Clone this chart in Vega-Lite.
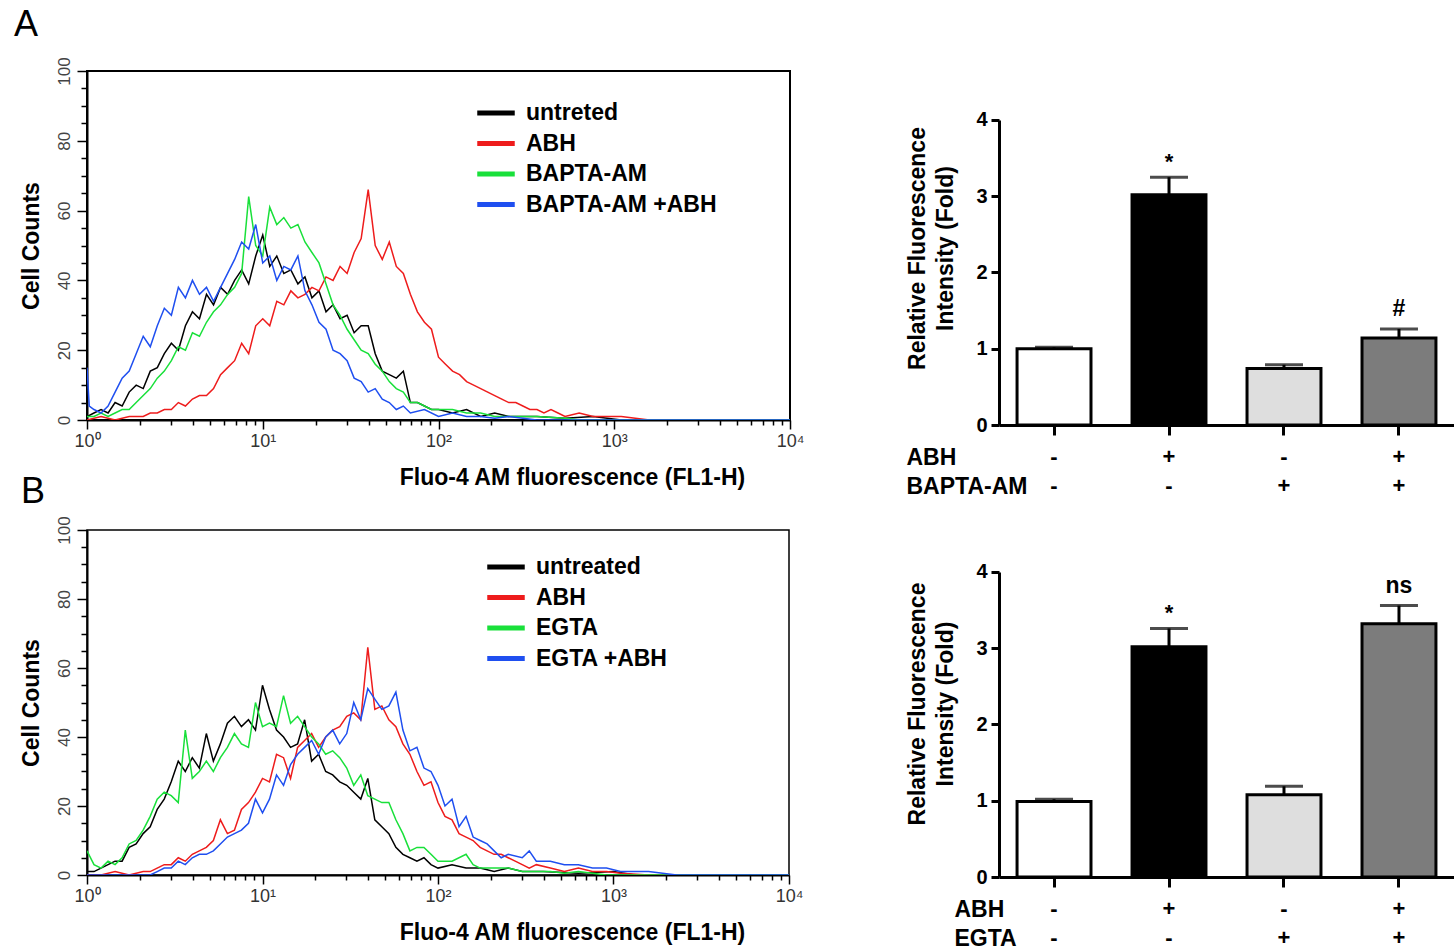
{
  "$schema": "https://vega.github.io/schema/vega-lite/v6.json",
  "background": "white",
  "padding": {"left": 13, "top": 5, "right": 0, "bottom": 0},
  "config": {
    "font": "Liberation Sans",
    "view": {"stroke": null},
    "axis": {"grid": false, "domainColor": "black", "tickColor": "black", "labelFlush": false, "labelOverlap": false},
    "legend": {"padding": 0}
  },
  "datasets": {
    "histA": [
      {"s":"untreted","x":1,"y":1},{"s":"untreted","x":1.096,"y":2},{"s":"untreted","x":1.202,"y":3},{"s":"untreted","x":1.318,"y":2},{"s":"untreted","x":1.445,"y":5},{"s":"untreted","x":1.585,"y":4},{"s":"untreted","x":1.738,"y":8},{"s":"untreted","x":1.905,"y":10},{"s":"untreted","x":2.089,"y":9},{"s":"untreted","x":2.291,"y":14},{"s":"untreted","x":2.512,"y":15},{"s":"untreted","x":2.754,"y":19},{"s":"untreted","x":3.02,"y":22},{"s":"untreted","x":3.311,"y":20},{"s":"untreted","x":3.631,"y":27},{"s":"untreted","x":3.981,"y":31},{"s":"untreted","x":4.365,"y":29},{"s":"untreted","x":4.786,"y":36},{"s":"untreted","x":5.248,"y":33},{"s":"untreted","x":5.754,"y":38},{"s":"untreted","x":6.31,"y":36},{"s":"untreted","x":6.918,"y":40},{"s":"untreted","x":7.586,"y":43},{"s":"untreted","x":8.318,"y":39},{"s":"untreted","x":9.12,"y":47},{"s":"untreted","x":10,"y":53},{"s":"untreted","x":10.96,"y":44},{"s":"untreted","x":12.02,"y":47},{"s":"untreted","x":13.18,"y":42},{"s":"untreted","x":14.45,"y":43},{"s":"untreted","x":15.85,"y":39},{"s":"untreted","x":17.38,"y":41},{"s":"untreted","x":19.05,"y":35},{"s":"untreted","x":20.89,"y":37},{"s":"untreted","x":22.91,"y":31},{"s":"untreted","x":25.12,"y":33},{"s":"untreted","x":27.54,"y":29},{"s":"untreted","x":30.2,"y":30},{"s":"untreted","x":33.11,"y":25},{"s":"untreted","x":36.31,"y":27},{"s":"untreted","x":39.81,"y":27},{"s":"untreted","x":43.65,"y":19},{"s":"untreted","x":47.86,"y":14},{"s":"untreted","x":52.48,"y":13},{"s":"untreted","x":57.54,"y":12},{"s":"untreted","x":63.1,"y":14},{"s":"untreted","x":69.18,"y":5},{"s":"untreted","x":75.86,"y":5},{"s":"untreted","x":83.18,"y":4},{"s":"untreted","x":91.2,"y":3},{"s":"untreted","x":100,"y":3},{"s":"untreted","x":120.2,"y":2},{"s":"untreted","x":144.5,"y":3},{"s":"untreted","x":173.8,"y":1},{"s":"untreted","x":208.9,"y":2},{"s":"untreted","x":251.2,"y":1},{"s":"untreted","x":363.1,"y":1},{"s":"untreted","x":524.8,"y":0.5},{"s":"untreted","x":758.6,"y":1},{"s":"untreted","x":1096,"y":0},{"s":"untreted","x":10000,"y":0},
      {"s":"ABH","x":1,"y":0},{"s":"ABH","x":1.202,"y":1},{"s":"ABH","x":1.445,"y":0},{"s":"ABH","x":1.738,"y":1},{"s":"ABH","x":2.089,"y":1},{"s":"ABH","x":2.291,"y":2},{"s":"ABH","x":2.512,"y":2},{"s":"ABH","x":2.754,"y":3},{"s":"ABH","x":3.02,"y":3},{"s":"ABH","x":3.311,"y":5},{"s":"ABH","x":3.631,"y":4},{"s":"ABH","x":3.981,"y":6},{"s":"ABH","x":4.365,"y":7},{"s":"ABH","x":4.786,"y":7},{"s":"ABH","x":5.248,"y":9},{"s":"ABH","x":5.754,"y":13},{"s":"ABH","x":6.31,"y":15},{"s":"ABH","x":6.918,"y":17},{"s":"ABH","x":7.586,"y":22},{"s":"ABH","x":8.318,"y":19},{"s":"ABH","x":9.12,"y":27},{"s":"ABH","x":10,"y":29},{"s":"ABH","x":10.96,"y":27},{"s":"ABH","x":12.02,"y":34},{"s":"ABH","x":13.18,"y":33},{"s":"ABH","x":14.45,"y":37},{"s":"ABH","x":15.85,"y":35},{"s":"ABH","x":17.38,"y":36},{"s":"ABH","x":19.05,"y":38},{"s":"ABH","x":20.89,"y":37},{"s":"ABH","x":22.91,"y":41},{"s":"ABH","x":25.12,"y":40},{"s":"ABH","x":27.54,"y":44},{"s":"ABH","x":30.2,"y":42},{"s":"ABH","x":33.11,"y":48},{"s":"ABH","x":36.31,"y":52},{"s":"ABH","x":39.81,"y":66},{"s":"ABH","x":43.65,"y":50},{"s":"ABH","x":47.86,"y":46},{"s":"ABH","x":52.48,"y":51},{"s":"ABH","x":57.54,"y":44},{"s":"ABH","x":63.1,"y":42},{"s":"ABH","x":69.18,"y":36},{"s":"ABH","x":75.86,"y":31},{"s":"ABH","x":83.18,"y":28},{"s":"ABH","x":91.2,"y":26},{"s":"ABH","x":100,"y":18},{"s":"ABH","x":109.6,"y":16},{"s":"ABH","x":120.2,"y":14},{"s":"ABH","x":131.8,"y":13},{"s":"ABH","x":144.5,"y":11},{"s":"ABH","x":158.5,"y":10},{"s":"ABH","x":173.8,"y":9},{"s":"ABH","x":190.5,"y":8},{"s":"ABH","x":208.9,"y":7},{"s":"ABH","x":229.1,"y":6},{"s":"ABH","x":251.2,"y":5},{"s":"ABH","x":275.4,"y":5},{"s":"ABH","x":302,"y":4},{"s":"ABH","x":331.1,"y":3},{"s":"ABH","x":363.1,"y":3},{"s":"ABH","x":398.1,"y":2},{"s":"ABH","x":436.5,"y":3},{"s":"ABH","x":478.6,"y":2},{"s":"ABH","x":524.8,"y":1},{"s":"ABH","x":631,"y":2},{"s":"ABH","x":758.6,"y":1},{"s":"ABH","x":912,"y":1},{"s":"ABH","x":1096,"y":1},{"s":"ABH","x":1318,"y":0.5},{"s":"ABH","x":1585,"y":0},{"s":"ABH","x":10000,"y":0},
      {"s":"BAPTA-AM","x":1,"y":1},{"s":"BAPTA-AM","x":1.096,"y":1},{"s":"BAPTA-AM","x":1.202,"y":2},{"s":"BAPTA-AM","x":1.318,"y":1},{"s":"BAPTA-AM","x":1.445,"y":2},{"s":"BAPTA-AM","x":1.585,"y":3},{"s":"BAPTA-AM","x":1.738,"y":3},{"s":"BAPTA-AM","x":1.905,"y":5},{"s":"BAPTA-AM","x":2.089,"y":7},{"s":"BAPTA-AM","x":2.291,"y":9},{"s":"BAPTA-AM","x":2.512,"y":12},{"s":"BAPTA-AM","x":2.754,"y":14},{"s":"BAPTA-AM","x":3.02,"y":17},{"s":"BAPTA-AM","x":3.311,"y":21},{"s":"BAPTA-AM","x":3.631,"y":20},{"s":"BAPTA-AM","x":3.981,"y":25},{"s":"BAPTA-AM","x":4.365,"y":24},{"s":"BAPTA-AM","x":4.786,"y":28},{"s":"BAPTA-AM","x":5.248,"y":31},{"s":"BAPTA-AM","x":5.754,"y":33},{"s":"BAPTA-AM","x":6.31,"y":36},{"s":"BAPTA-AM","x":6.918,"y":38},{"s":"BAPTA-AM","x":7.586,"y":42},{"s":"BAPTA-AM","x":8.318,"y":64},{"s":"BAPTA-AM","x":9.12,"y":50},{"s":"BAPTA-AM","x":10,"y":47},{"s":"BAPTA-AM","x":10.96,"y":61},{"s":"BAPTA-AM","x":12.02,"y":56},{"s":"BAPTA-AM","x":13.18,"y":58},{"s":"BAPTA-AM","x":14.45,"y":55},{"s":"BAPTA-AM","x":15.85,"y":56},{"s":"BAPTA-AM","x":17.38,"y":51},{"s":"BAPTA-AM","x":19.05,"y":48},{"s":"BAPTA-AM","x":20.89,"y":45},{"s":"BAPTA-AM","x":22.91,"y":39},{"s":"BAPTA-AM","x":25.12,"y":33},{"s":"BAPTA-AM","x":27.54,"y":30},{"s":"BAPTA-AM","x":30.2,"y":26},{"s":"BAPTA-AM","x":33.11,"y":23},{"s":"BAPTA-AM","x":36.31,"y":20},{"s":"BAPTA-AM","x":39.81,"y":19},{"s":"BAPTA-AM","x":43.65,"y":16},{"s":"BAPTA-AM","x":47.86,"y":14},{"s":"BAPTA-AM","x":52.48,"y":11},{"s":"BAPTA-AM","x":57.54,"y":9},{"s":"BAPTA-AM","x":63.1,"y":8},{"s":"BAPTA-AM","x":69.18,"y":5},{"s":"BAPTA-AM","x":75.86,"y":5},{"s":"BAPTA-AM","x":83.18,"y":4},{"s":"BAPTA-AM","x":91.2,"y":3},{"s":"BAPTA-AM","x":100,"y":3},{"s":"BAPTA-AM","x":120.2,"y":3},{"s":"BAPTA-AM","x":144.5,"y":2},{"s":"BAPTA-AM","x":173.8,"y":2},{"s":"BAPTA-AM","x":208.9,"y":1},{"s":"BAPTA-AM","x":251.2,"y":1},{"s":"BAPTA-AM","x":363.1,"y":1},{"s":"BAPTA-AM","x":524.8,"y":0.5},{"s":"BAPTA-AM","x":631,"y":0},{"s":"BAPTA-AM","x":10000,"y":0},
      {"s":"BAPTA-AM +ABH","x":1,"y":15},{"s":"BAPTA-AM +ABH","x":1.03,"y":4},{"s":"BAPTA-AM +ABH","x":1.096,"y":3},{"s":"BAPTA-AM +ABH","x":1.202,"y":2},{"s":"BAPTA-AM +ABH","x":1.318,"y":4},{"s":"BAPTA-AM +ABH","x":1.445,"y":8},{"s":"BAPTA-AM +ABH","x":1.585,"y":12},{"s":"BAPTA-AM +ABH","x":1.738,"y":14},{"s":"BAPTA-AM +ABH","x":1.905,"y":19},{"s":"BAPTA-AM +ABH","x":2.089,"y":24},{"s":"BAPTA-AM +ABH","x":2.291,"y":21},{"s":"BAPTA-AM +ABH","x":2.512,"y":27},{"s":"BAPTA-AM +ABH","x":2.754,"y":32},{"s":"BAPTA-AM +ABH","x":3.02,"y":30},{"s":"BAPTA-AM +ABH","x":3.311,"y":38},{"s":"BAPTA-AM +ABH","x":3.631,"y":35},{"s":"BAPTA-AM +ABH","x":3.981,"y":40},{"s":"BAPTA-AM +ABH","x":4.365,"y":36},{"s":"BAPTA-AM +ABH","x":4.786,"y":38},{"s":"BAPTA-AM +ABH","x":5.248,"y":34},{"s":"BAPTA-AM +ABH","x":5.754,"y":38},{"s":"BAPTA-AM +ABH","x":6.31,"y":42},{"s":"BAPTA-AM +ABH","x":6.918,"y":46},{"s":"BAPTA-AM +ABH","x":7.586,"y":51},{"s":"BAPTA-AM +ABH","x":8.318,"y":49},{"s":"BAPTA-AM +ABH","x":9.12,"y":56},{"s":"BAPTA-AM +ABH","x":10,"y":45},{"s":"BAPTA-AM +ABH","x":10.96,"y":47},{"s":"BAPTA-AM +ABH","x":12.02,"y":40},{"s":"BAPTA-AM +ABH","x":13.18,"y":44},{"s":"BAPTA-AM +ABH","x":14.45,"y":43},{"s":"BAPTA-AM +ABH","x":15.85,"y":47},{"s":"BAPTA-AM +ABH","x":17.38,"y":37},{"s":"BAPTA-AM +ABH","x":19.05,"y":33},{"s":"BAPTA-AM +ABH","x":20.89,"y":28},{"s":"BAPTA-AM +ABH","x":22.91,"y":26},{"s":"BAPTA-AM +ABH","x":25.12,"y":20},{"s":"BAPTA-AM +ABH","x":27.54,"y":19},{"s":"BAPTA-AM +ABH","x":30.2,"y":17},{"s":"BAPTA-AM +ABH","x":33.11,"y":12},{"s":"BAPTA-AM +ABH","x":36.31,"y":11},{"s":"BAPTA-AM +ABH","x":39.81,"y":8},{"s":"BAPTA-AM +ABH","x":43.65,"y":9},{"s":"BAPTA-AM +ABH","x":47.86,"y":6},{"s":"BAPTA-AM +ABH","x":52.48,"y":5},{"s":"BAPTA-AM +ABH","x":57.54,"y":3},{"s":"BAPTA-AM +ABH","x":63.1,"y":4},{"s":"BAPTA-AM +ABH","x":69.18,"y":2},{"s":"BAPTA-AM +ABH","x":83.18,"y":3},{"s":"BAPTA-AM +ABH","x":100,"y":1},{"s":"BAPTA-AM +ABH","x":120.2,"y":2},{"s":"BAPTA-AM +ABH","x":144.5,"y":1},{"s":"BAPTA-AM +ABH","x":173.8,"y":1},{"s":"BAPTA-AM +ABH","x":208.9,"y":0.5},{"s":"BAPTA-AM +ABH","x":251.2,"y":1},{"s":"BAPTA-AM +ABH","x":363.1,"y":0},{"s":"BAPTA-AM +ABH","x":10000,"y":0}
    ],
    "histB": [
      {"s":"untreated","x":1,"y":1},{"s":"untreated","x":1.096,"y":1},{"s":"untreated","x":1.202,"y":2},{"s":"untreated","x":1.318,"y":3},{"s":"untreated","x":1.445,"y":4},{"s":"untreated","x":1.585,"y":4},{"s":"untreated","x":1.738,"y":8},{"s":"untreated","x":1.905,"y":9},{"s":"untreated","x":2.089,"y":12},{"s":"untreated","x":2.291,"y":14},{"s":"untreated","x":2.512,"y":19},{"s":"untreated","x":2.754,"y":22},{"s":"untreated","x":3.02,"y":27},{"s":"untreated","x":3.311,"y":33},{"s":"untreated","x":3.631,"y":30},{"s":"untreated","x":3.981,"y":34},{"s":"untreated","x":4.365,"y":31},{"s":"untreated","x":4.786,"y":41},{"s":"untreated","x":5.248,"y":33},{"s":"untreated","x":5.754,"y":38},{"s":"untreated","x":6.31,"y":44},{"s":"untreated","x":6.918,"y":46},{"s":"untreated","x":7.586,"y":43},{"s":"untreated","x":8.318,"y":45},{"s":"untreated","x":9.12,"y":42},{"s":"untreated","x":10,"y":55},{"s":"untreated","x":10.96,"y":48},{"s":"untreated","x":12.02,"y":42},{"s":"untreated","x":13.18,"y":40},{"s":"untreated","x":14.45,"y":37},{"s":"untreated","x":15.85,"y":38},{"s":"untreated","x":17.38,"y":45},{"s":"untreated","x":19.05,"y":33},{"s":"untreated","x":20.89,"y":35},{"s":"untreated","x":22.91,"y":30},{"s":"untreated","x":25.12,"y":29},{"s":"untreated","x":27.54,"y":27},{"s":"untreated","x":30.2,"y":26},{"s":"untreated","x":33.11,"y":24},{"s":"untreated","x":36.31,"y":22},{"s":"untreated","x":39.81,"y":28},{"s":"untreated","x":43.65,"y":16},{"s":"untreated","x":47.86,"y":14},{"s":"untreated","x":52.48,"y":12},{"s":"untreated","x":57.54,"y":8},{"s":"untreated","x":63.1,"y":6},{"s":"untreated","x":69.18,"y":5},{"s":"untreated","x":75.86,"y":4},{"s":"untreated","x":83.18,"y":5},{"s":"untreated","x":91.2,"y":3},{"s":"untreated","x":100,"y":2},{"s":"untreated","x":120.2,"y":3},{"s":"untreated","x":144.5,"y":2},{"s":"untreated","x":173.8,"y":2},{"s":"untreated","x":208.9,"y":1},{"s":"untreated","x":251.2,"y":2},{"s":"untreated","x":302,"y":1},{"s":"untreated","x":398.1,"y":1},{"s":"untreated","x":631,"y":0.5},{"s":"untreated","x":1000,"y":1},{"s":"untreated","x":1318,"y":0},{"s":"untreated","x":10000,"y":0},
      {"s":"ABH","x":1,"y":0},{"s":"ABH","x":1.202,"y":0},{"s":"ABH","x":1.445,"y":1},{"s":"ABH","x":1.738,"y":0},{"s":"ABH","x":2.089,"y":1},{"s":"ABH","x":2.291,"y":1},{"s":"ABH","x":2.512,"y":2},{"s":"ABH","x":2.754,"y":3},{"s":"ABH","x":3.02,"y":3},{"s":"ABH","x":3.311,"y":5},{"s":"ABH","x":3.631,"y":4},{"s":"ABH","x":3.981,"y":6},{"s":"ABH","x":4.365,"y":7},{"s":"ABH","x":4.786,"y":8},{"s":"ABH","x":5.248,"y":10},{"s":"ABH","x":5.754,"y":16},{"s":"ABH","x":6.31,"y":12},{"s":"ABH","x":6.918,"y":13},{"s":"ABH","x":7.586,"y":19},{"s":"ABH","x":8.318,"y":21},{"s":"ABH","x":9.12,"y":24},{"s":"ABH","x":10,"y":28},{"s":"ABH","x":10.96,"y":27},{"s":"ABH","x":12.02,"y":35},{"s":"ABH","x":13.18,"y":34},{"s":"ABH","x":14.45,"y":28},{"s":"ABH","x":15.85,"y":37},{"s":"ABH","x":17.38,"y":39},{"s":"ABH","x":19.05,"y":41},{"s":"ABH","x":20.89,"y":37},{"s":"ABH","x":22.91,"y":40},{"s":"ABH","x":25.12,"y":42},{"s":"ABH","x":27.54,"y":43},{"s":"ABH","x":30.2,"y":46},{"s":"ABH","x":33.11,"y":47},{"s":"ABH","x":36.31,"y":45},{"s":"ABH","x":39.81,"y":66},{"s":"ABH","x":43.65,"y":48},{"s":"ABH","x":47.86,"y":49},{"s":"ABH","x":52.48,"y":45},{"s":"ABH","x":57.54,"y":43},{"s":"ABH","x":63.1,"y":38},{"s":"ABH","x":69.18,"y":35},{"s":"ABH","x":75.86,"y":30},{"s":"ABH","x":83.18,"y":26},{"s":"ABH","x":91.2,"y":27},{"s":"ABH","x":100,"y":21},{"s":"ABH","x":109.6,"y":17},{"s":"ABH","x":120.2,"y":16},{"s":"ABH","x":131.8,"y":12},{"s":"ABH","x":144.5,"y":11},{"s":"ABH","x":158.5,"y":10},{"s":"ABH","x":173.8,"y":8},{"s":"ABH","x":190.5,"y":7},{"s":"ABH","x":208.9,"y":6},{"s":"ABH","x":229.1,"y":6},{"s":"ABH","x":251.2,"y":5},{"s":"ABH","x":275.4,"y":4},{"s":"ABH","x":302,"y":3},{"s":"ABH","x":331.1,"y":2},{"s":"ABH","x":363.1,"y":3},{"s":"ABH","x":436.5,"y":2},{"s":"ABH","x":524.8,"y":1},{"s":"ABH","x":631,"y":2},{"s":"ABH","x":758.6,"y":1},{"s":"ABH","x":912,"y":1},{"s":"ABH","x":1096,"y":0.5},{"s":"ABH","x":1585,"y":0},{"s":"ABH","x":10000,"y":0},
      {"s":"EGTA","x":1,"y":7},{"s":"EGTA","x":1.096,"y":3},{"s":"EGTA","x":1.202,"y":2},{"s":"EGTA","x":1.318,"y":4},{"s":"EGTA","x":1.445,"y":3},{"s":"EGTA","x":1.585,"y":5},{"s":"EGTA","x":1.738,"y":9},{"s":"EGTA","x":1.905,"y":10},{"s":"EGTA","x":2.089,"y":13},{"s":"EGTA","x":2.291,"y":17},{"s":"EGTA","x":2.512,"y":22},{"s":"EGTA","x":2.754,"y":24},{"s":"EGTA","x":3.02,"y":23},{"s":"EGTA","x":3.311,"y":21},{"s":"EGTA","x":3.631,"y":42},{"s":"EGTA","x":3.981,"y":28},{"s":"EGTA","x":4.365,"y":30},{"s":"EGTA","x":4.786,"y":33},{"s":"EGTA","x":5.248,"y":30},{"s":"EGTA","x":5.754,"y":34},{"s":"EGTA","x":6.31,"y":37},{"s":"EGTA","x":6.918,"y":41},{"s":"EGTA","x":7.586,"y":38},{"s":"EGTA","x":8.318,"y":37},{"s":"EGTA","x":9.12,"y":50},{"s":"EGTA","x":10,"y":43},{"s":"EGTA","x":10.96,"y":44},{"s":"EGTA","x":12.02,"y":43},{"s":"EGTA","x":13.18,"y":52},{"s":"EGTA","x":14.45,"y":44},{"s":"EGTA","x":15.85,"y":46},{"s":"EGTA","x":17.38,"y":43},{"s":"EGTA","x":19.05,"y":40},{"s":"EGTA","x":20.89,"y":38},{"s":"EGTA","x":22.91,"y":35},{"s":"EGTA","x":25.12,"y":36},{"s":"EGTA","x":27.54,"y":34},{"s":"EGTA","x":30.2,"y":31},{"s":"EGTA","x":33.11,"y":26},{"s":"EGTA","x":36.31,"y":29},{"s":"EGTA","x":39.81,"y":23},{"s":"EGTA","x":43.65,"y":22},{"s":"EGTA","x":47.86,"y":21},{"s":"EGTA","x":52.48,"y":21},{"s":"EGTA","x":57.54,"y":16},{"s":"EGTA","x":63.1,"y":12},{"s":"EGTA","x":69.18,"y":7},{"s":"EGTA","x":75.86,"y":8},{"s":"EGTA","x":83.18,"y":8},{"s":"EGTA","x":91.2,"y":6},{"s":"EGTA","x":100,"y":4},{"s":"EGTA","x":109.6,"y":4},{"s":"EGTA","x":120.2,"y":4},{"s":"EGTA","x":144.5,"y":6},{"s":"EGTA","x":158.5,"y":3},{"s":"EGTA","x":173.8,"y":2},{"s":"EGTA","x":208.9,"y":2},{"s":"EGTA","x":251.2,"y":2},{"s":"EGTA","x":302,"y":1},{"s":"EGTA","x":363.1,"y":1},{"s":"EGTA","x":436.5,"y":1},{"s":"EGTA","x":524.8,"y":0.5},{"s":"EGTA","x":631,"y":1},{"s":"EGTA","x":912,"y":0},{"s":"EGTA","x":10000,"y":0},
      {"s":"EGTA +ABH","x":1,"y":0},{"s":"EGTA +ABH","x":1.445,"y":0},{"s":"EGTA +ABH","x":2.089,"y":0},{"s":"EGTA +ABH","x":2.291,"y":0},{"s":"EGTA +ABH","x":2.512,"y":1},{"s":"EGTA +ABH","x":2.754,"y":2},{"s":"EGTA +ABH","x":3.02,"y":2},{"s":"EGTA +ABH","x":3.311,"y":4},{"s":"EGTA +ABH","x":3.631,"y":3},{"s":"EGTA +ABH","x":3.981,"y":5},{"s":"EGTA +ABH","x":4.365,"y":6},{"s":"EGTA +ABH","x":4.786,"y":6},{"s":"EGTA +ABH","x":5.248,"y":7},{"s":"EGTA +ABH","x":5.754,"y":9},{"s":"EGTA +ABH","x":6.31,"y":11},{"s":"EGTA +ABH","x":6.918,"y":12},{"s":"EGTA +ABH","x":7.586,"y":13},{"s":"EGTA +ABH","x":8.318,"y":15},{"s":"EGTA +ABH","x":9.12,"y":22},{"s":"EGTA +ABH","x":10,"y":18},{"s":"EGTA +ABH","x":10.96,"y":22},{"s":"EGTA +ABH","x":12.02,"y":29},{"s":"EGTA +ABH","x":13.18,"y":26},{"s":"EGTA +ABH","x":14.45,"y":32},{"s":"EGTA +ABH","x":15.85,"y":35},{"s":"EGTA +ABH","x":17.38,"y":37},{"s":"EGTA +ABH","x":19.05,"y":39},{"s":"EGTA +ABH","x":20.89,"y":35},{"s":"EGTA +ABH","x":22.91,"y":40},{"s":"EGTA +ABH","x":25.12,"y":42},{"s":"EGTA +ABH","x":27.54,"y":38},{"s":"EGTA +ABH","x":30.2,"y":41},{"s":"EGTA +ABH","x":33.11,"y":50},{"s":"EGTA +ABH","x":36.31,"y":45},{"s":"EGTA +ABH","x":39.81,"y":54},{"s":"EGTA +ABH","x":43.65,"y":51},{"s":"EGTA +ABH","x":47.86,"y":48},{"s":"EGTA +ABH","x":52.48,"y":49},{"s":"EGTA +ABH","x":57.54,"y":53},{"s":"EGTA +ABH","x":63.1,"y":42},{"s":"EGTA +ABH","x":69.18,"y":36},{"s":"EGTA +ABH","x":75.86,"y":37},{"s":"EGTA +ABH","x":83.18,"y":31},{"s":"EGTA +ABH","x":91.2,"y":30},{"s":"EGTA +ABH","x":100,"y":26},{"s":"EGTA +ABH","x":109.6,"y":20},{"s":"EGTA +ABH","x":120.2,"y":22},{"s":"EGTA +ABH","x":131.8,"y":14},{"s":"EGTA +ABH","x":144.5,"y":17},{"s":"EGTA +ABH","x":158.5,"y":11},{"s":"EGTA +ABH","x":173.8,"y":10},{"s":"EGTA +ABH","x":190.5,"y":9},{"s":"EGTA +ABH","x":208.9,"y":7},{"s":"EGTA +ABH","x":229.1,"y":5},{"s":"EGTA +ABH","x":251.2,"y":6},{"s":"EGTA +ABH","x":302,"y":5},{"s":"EGTA +ABH","x":331.1,"y":7},{"s":"EGTA +ABH","x":363.1,"y":4},{"s":"EGTA +ABH","x":436.5,"y":4},{"s":"EGTA +ABH","x":524.8,"y":3},{"s":"EGTA +ABH","x":631,"y":3},{"s":"EGTA +ABH","x":758.6,"y":2},{"s":"EGTA +ABH","x":912,"y":2},{"s":"EGTA +ABH","x":1096,"y":1},{"s":"EGTA +ABH","x":1318,"y":1},{"s":"EGTA +ABH","x":1585,"y":1},{"s":"EGTA +ABH","x":1905,"y":0.5},{"s":"EGTA +ABH","x":2291,"y":0},{"s":"EGTA +ABH","x":10000,"y":0}
    ],
    "bars": [
      {"p":"A","cond":"-|-","val":1.0,"hi":1.02,"sig":""},
      {"p":"A","cond":"+|-","val":3.02,"hi":3.25,"sig":"*"},
      {"p":"A","cond":"-|+","val":0.74,"hi":0.79,"sig":""},
      {"p":"A","cond":"+|+","val":1.14,"hi":1.26,"sig":"#"},
      {"p":"B","cond":"-|-","val":0.99,"hi":1.02,"sig":""},
      {"p":"B","cond":"+|-","val":3.02,"hi":3.26,"sig":"*"},
      {"p":"B","cond":"-|+","val":1.08,"hi":1.19,"sig":""},
      {"p":"B","cond":"+|+","val":3.32,"hi":3.56,"sig":"ns"}
    ]
  },
  "spacing": -26,
  "resolve": {"scale": {"color": "independent"}, "legend": {"color": "independent"}},
  "vconcat": [
    {
      "spacing": 101,
      "resolve": {"scale": {"color": "independent", "x": "independent", "y": "independent"}, "axis": {"x": "independent", "y": "independent"}, "legend": {"color": "independent"}},
      "hconcat": [
        {
          "width": 703, "height": 349,
          "view": {"stroke": "black", "strokeWidth": 2},
          "title": {"text": "A", "anchor": "start", "frame": "group", "dx": -73, "offset": -15, "fontSize": 36, "fontWeight": "normal", "baseline": "alphabetic", "color": "black"},
          "data": {"name": "histA"},
          "mark": {"type": "line", "strokeWidth": 1.5, "clip": true},
          "encoding": {
            "x": {"field": "x", "type": "quantitative", "scale": {"type": "log", "domain": [1, 10000], "nice": false},
              "axis": {"title": "Fluo-4 AM fluorescence (FL1-H)", "values": [1,2,3,4,5,6,7,8,9,10,20,30,40,50,60,70,80,90,100,200,300,400,500,600,700,800,900,1000,2000,3000,4000,5000,6000,7000,8000,9000,10000],
                "labelExpr": "datum.value == 1 ? '10⁰' : datum.value == 10 ? '10¹' : datum.value == 100 ? '10²' : datum.value == 1000 ? '10³' : datum.value == 10000 ? '10⁴' : ''",
                "tickSize": {"condition": {"test": "datum.value == 1 || datum.value == 10 || datum.value == 100 || datum.value == 1000 || datum.value == 10000", "value": 9}, "value": 5},
                "tickWidth": 1.5, "domainWidth": 2, "labelFontSize": 18, "labelColor": "#333", "labelPadding": 3,
                "titleFontSize": 23, "titleFontWeight": "bold", "titleColor": "black", "titleX": 485, "titleAlign": "center", "titlePadding": 16}},
            "y": {"field": "y", "type": "quantitative", "scale": {"domain": [0, 100], "nice": false},
              "axis": {"title": "Cell Counts", "values": [0,5,10,15,20,25,30,35,40,45,50,55,60,65,70,75,80,85,90,95,100],
                "labelExpr": "datum.value % 20 === 0 ? datum.label : ''", "labelAngle": -90, "labelAlign": "center", "labelBaseline": "bottom", "labelPadding": 4,
                "tickSize": {"condition": {"test": "datum.value % 20 === 0", "value": 10}, "value": 6},
                "tickWidth": 1.5, "domainWidth": 2, "labelFontSize": 17, "labelColor": "#444",
                "titleFontSize": 23, "titleFontWeight": "bold", "titleColor": "black", "titlePadding": 12}},
            "color": {"field": "s", "type": "nominal", "sort": null,
              "scale": {"domain": ["untreted", "ABH", "BAPTA-AM", "BAPTA-AM +ABH"], "range": ["#000000", "#ee1c1c", "#19e03a", "#1f4ff0"]},
              "legend": {"title": null, "orient": "none", "legendX": 394, "legendY": 27, "symbolType": "M-1.5,0H1.5", "symbolSize": 625, "symbolStrokeWidth": 5, "labelFontSize": 23, "labelFontWeight": "bold", "labelColor": "black", "labelOffset": 15, "rowPadding": 3.5, "labelLimit": 400}}
          }
        },
        {
          "width": 455, "height": 354,
          "data": {"name": "bars"},
          "transform": [{"filter": "datum.p === 'A'"}],
          "encoding": {
            "x": {"field": "cond", "type": "nominal", "sort": null, "scale": {"paddingInner": 0.357, "paddingOuter": 0.157},
              "axis": {"title": ["ABH", "BAPTA-AM"], "titleX": -93, "titleY": 21, "titleAlign": "left", "titleAnchor": "start", "titleBaseline": "top", "titleLineHeight": 29.5, "titleFontSize": 23, "titleFontWeight": "bold", "titleColor": "black",
                "labelExpr": "[substring(datum.label, 0, 1), substring(datum.label, 2, 3)]", "labelLineHeight": 29.5, "labelFontSize": 22, "labelFontWeight": "bold", "labelColor": "black", "labelBaseline": "top", "labelAngle": 0, "labelPadding": 11,
                "tickSize": 10, "tickWidth": 3, "domainWidth": 3}}
          },
          "layer": [
            {"mark": {"type": "bar", "stroke": "black", "strokeWidth": 3},
              "encoding": {
                "y": {"field": "val", "type": "quantitative", "scale": {"domain": [0, 4.6426], "nice": false},
                  "axis": {"title": ["Relative Fluorescence", "Intensity (Fold)"], "values": [0,1,2,3,4], "format": "d", "domainDash": [305, 2000], "tickSize": 8, "tickWidth": 3, "domainWidth": 3, "labelFontSize": 20, "labelFontWeight": "bold", "labelColor": "black", "labelPadding": 4, "titleFontSize": 23, "titleFontWeight": "bold", "titleColor": "black", "titleLineHeight": 28, "titlePadding": 18}},
                "fill": {"field": "cond", "type": "nominal", "sort": null, "scale": {"domain": ["-|-", "+|-", "-|+", "+|+"], "range": ["#ffffff", "#000000", "#dedede", "#7c7c7c"]}, "legend": null}
              }},
            {"mark": {"type": "rule", "strokeWidth": 3, "color": "black"}, "encoding": {"y": {"field": "val", "type": "quantitative"}, "y2": {"field": "hi"}}},
            {"mark": {"type": "tick", "orient": "horizontal", "size": 38, "thickness": 3, "color": "black"}, "encoding": {"y": {"field": "hi", "type": "quantitative"}}},
            {"transform": [{"filter": "datum.sig === '*'"}], "mark": {"type": "text", "fontSize": 22, "fontWeight": "bold", "baseline": "alphabetic", "dy": -8, "color": "black"}, "encoding": {"y": {"field": "hi", "type": "quantitative"}, "text": {"field": "sig"}}},
            {"transform": [{"filter": "datum.sig !== '' && datum.sig !== '*'"}], "mark": {"type": "text", "fontSize": 23, "fontWeight": "bold", "baseline": "alphabetic", "dy": -13, "color": "black"}, "encoding": {"y": {"field": "hi", "type": "quantitative"}, "text": {"field": "sig"}}}
          ]
        }
      ]
    },
    {
      "spacing": 102,
      "resolve": {"scale": {"color": "independent", "x": "independent", "y": "independent"}, "axis": {"x": "independent", "y": "independent"}, "legend": {"color": "independent"}},
      "hconcat": [
        {
          "width": 702, "height": 345,
          "view": {"stroke": "black", "strokeWidth": 1.5},
          "title": {"text": "B", "anchor": "start", "frame": "group", "dx": -66, "offset": -23, "fontSize": 36, "fontWeight": "normal", "baseline": "alphabetic", "color": "black"},
          "data": {"name": "histB"},
          "mark": {"type": "line", "strokeWidth": 1.5, "clip": true},
          "encoding": {
            "x": {"field": "x", "type": "quantitative", "scale": {"type": "log", "domain": [1, 10000], "nice": false},
              "axis": {"title": "Fluo-4 AM fluorescence (FL1-H)", "values": [1,2,3,4,5,6,7,8,9,10,20,30,40,50,60,70,80,90,100,200,300,400,500,600,700,800,900,1000,2000,3000,4000,5000,6000,7000,8000,9000,10000],
                "labelExpr": "datum.value == 1 ? '10⁰' : datum.value == 10 ? '10¹' : datum.value == 100 ? '10²' : datum.value == 1000 ? '10³' : datum.value == 10000 ? '10⁴' : ''",
                "tickSize": {"condition": {"test": "datum.value == 1 || datum.value == 10 || datum.value == 100 || datum.value == 1000 || datum.value == 10000", "value": 9}, "value": 5},
                "tickWidth": 1.5, "domainWidth": 2, "labelFontSize": 18, "labelColor": "#333", "labelPadding": 3,
                "titleFontSize": 23, "titleFontWeight": "bold", "titleColor": "black", "titleX": 485, "titleAlign": "center", "titlePadding": 16}},
            "y": {"field": "y", "type": "quantitative", "scale": {"domain": [0, 100], "nice": false},
              "axis": {"title": "Cell Counts", "values": [0,5,10,15,20,25,30,35,40,45,50,55,60,65,70,75,80,85,90,95,100],
                "labelExpr": "datum.value % 20 === 0 ? datum.label : ''", "labelAngle": -90, "labelAlign": "center", "labelBaseline": "bottom", "labelPadding": 4,
                "tickSize": {"condition": {"test": "datum.value % 20 === 0", "value": 10}, "value": 6},
                "tickWidth": 1.5, "domainWidth": 2, "labelFontSize": 17, "labelColor": "#444",
                "titleFontSize": 23, "titleFontWeight": "bold", "titleColor": "black", "titlePadding": 12}},
            "color": {"field": "s", "type": "nominal", "sort": null,
              "scale": {"domain": ["untreated", "ABH", "EGTA", "EGTA +ABH"], "range": ["#000000", "#ee1c1c", "#19e03a", "#1f4ff0"]},
              "legend": {"title": null, "orient": "none", "legendX": 404, "legendY": 22, "symbolType": "M-1.5,0H1.5", "symbolSize": 625, "symbolStrokeWidth": 5, "labelFontSize": 23, "labelFontWeight": "bold", "labelColor": "black", "labelOffset": 15, "rowPadding": 3.5, "labelLimit": 400}}
          }
        },
        {
          "width": 455, "height": 347,
          "data": {"name": "bars"},
          "transform": [{"filter": "datum.p === 'B'"}],
          "encoding": {
            "x": {"field": "cond", "type": "nominal", "sort": null, "scale": {"paddingInner": 0.357, "paddingOuter": 0.157},
              "axis": {"title": ["ABH", "EGTA"], "titleX": -45, "titleY": 21, "titleAlign": "left", "titleAnchor": "start", "titleBaseline": "top", "titleLineHeight": 29.5, "titleFontSize": 23, "titleFontWeight": "bold", "titleColor": "black",
                "labelExpr": "[substring(datum.label, 0, 1), substring(datum.label, 2, 3)]", "labelLineHeight": 29.5, "labelFontSize": 22, "labelFontWeight": "bold", "labelColor": "black", "labelBaseline": "top", "labelAngle": 0, "labelPadding": 11,
                "tickSize": 10, "tickWidth": 3, "domainWidth": 3}}
          },
          "layer": [
            {"mark": {"type": "bar", "stroke": "black", "strokeWidth": 3},
              "encoding": {
                "y": {"field": "val", "type": "quantitative", "scale": {"domain": [0, 4.5508], "nice": false},
                  "axis": {"title": ["Relative Fluorescence", "Intensity (Fold)"], "values": [0,1,2,3,4], "format": "d", "domainDash": [305, 2000], "tickSize": 8, "tickWidth": 3, "domainWidth": 3, "labelFontSize": 20, "labelFontWeight": "bold", "labelColor": "black", "labelPadding": 4, "titleFontSize": 23, "titleFontWeight": "bold", "titleColor": "black", "titleLineHeight": 28, "titlePadding": 18}},
                "fill": {"field": "cond", "type": "nominal", "sort": null, "scale": {"domain": ["-|-", "+|-", "-|+", "+|+"], "range": ["#ffffff", "#000000", "#dedede", "#7c7c7c"]}, "legend": null}
              }},
            {"mark": {"type": "rule", "strokeWidth": 3, "color": "black"}, "encoding": {"y": {"field": "val", "type": "quantitative"}, "y2": {"field": "hi"}}},
            {"mark": {"type": "tick", "orient": "horizontal", "size": 38, "thickness": 3, "color": "black"}, "encoding": {"y": {"field": "hi", "type": "quantitative"}}},
            {"transform": [{"filter": "datum.sig === '*'"}], "mark": {"type": "text", "fontSize": 22, "fontWeight": "bold", "baseline": "alphabetic", "dy": -8, "color": "black"}, "encoding": {"y": {"field": "hi", "type": "quantitative"}, "text": {"field": "sig"}}},
            {"transform": [{"filter": "datum.sig !== '' && datum.sig !== '*'"}], "mark": {"type": "text", "fontSize": 23, "fontWeight": "bold", "baseline": "alphabetic", "dy": -13, "color": "black"}, "encoding": {"y": {"field": "hi", "type": "quantitative"}, "text": {"field": "sig"}}}
          ]
        }
      ]
    }
  ]
}
